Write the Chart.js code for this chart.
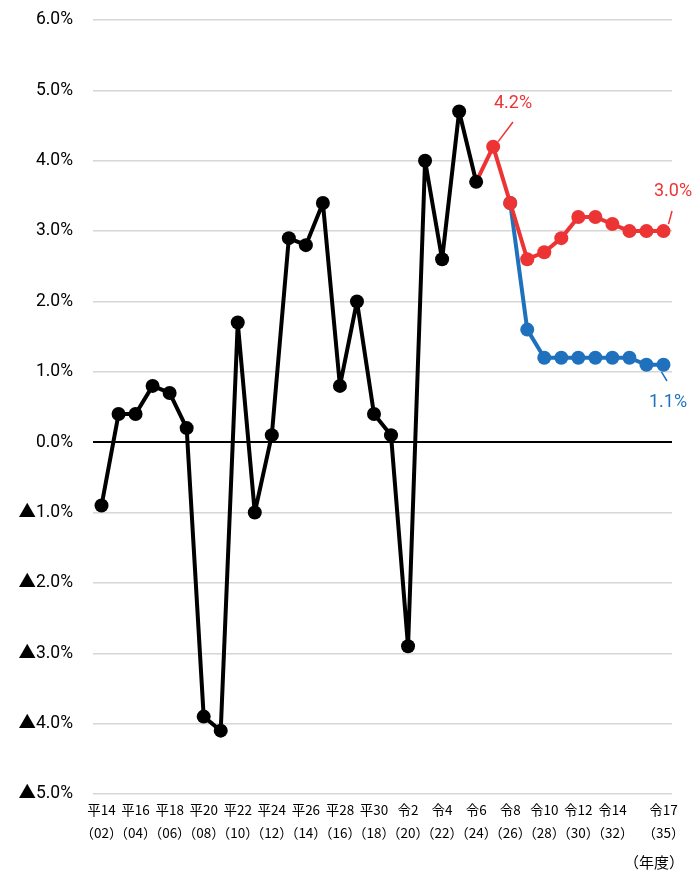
<!DOCTYPE html>
<html>
<head>
<meta charset="utf-8">
<script src="https://cdn.jsdelivr.net/npm/chart.js@4.4.0/dist/chart.umd.min.js"></script>
<style>
  html, body { margin: 0; padding: 0; background: #fff; }
  #wrap { width: 692px; height: 872px; }
</style>
</head>
<body>
<div id="wrap"><canvas id="myChart" width="692" height="872"></canvas></div>
<script>
// 年度 2002〜2035
const years = [];
for (let y = 2002; y <= 2035; y++) years.push(y);

// 実績（2002〜2024）
const actual = [-0.9, 0.4, 0.4, 0.8, 0.7, 0.2, -3.9, -4.1, 1.7, -1.0, 0.1, 2.9,
  2.8, 3.4, 0.8, 2.0, 0.4, 0.1, -2.9, 4.0, 2.6, 4.7, 3.7];

// 成長ケース（2024〜2035）
const growthYears = [2024, 2025, 2026, 2027, 2028, 2029, 2030, 2031, 2032, 2033, 2034, 2035];
const growth = [3.7, 4.2, 3.4, 2.6, 2.7, 2.9, 3.2, 3.2, 3.1, 3.0, 3.0, 3.0];

// ベースラインケース（2026〜2035）
const baseYears = [2026, 2027, 2028, 2029, 2030, 2031, 2032, 2033, 2034, 2035];
const baseline = [3.4, 1.6, 1.2, 1.2, 1.2, 1.2, 1.2, 1.2, 1.1, 1.1];

// 軸ラベル
const tickYears = [2002, 2004, 2006, 2008, 2010, 2012, 2014, 2016, 2018, 2020, 2022, 2024, 2026, 2028, 2030, 2032, 2035];
const tickEra = ['平14', '平16', '平18', '平20', '平22', '平24', '平26', '平28', '平30', '令2', '令4', '令6', '令8', '令10', '令12', '令14', '令17'];
const tickShort = ['（02）', '（04）', '（06）', '（08）', '（10）', '（12）', '（14）', '（16）', '（18）', '（20）', '（22）', '（24）', '（26）', '（28）', '（30）', '（32）', '（35）'];

const RED = '#ec3434';
const BLUE = '#1f71bd';

const fullSeries = (ys, vals) => years.map(y => {
  const i = ys.indexOf(y);
  return i < 0 ? null : vals[i];
});

const actualData = years.map((y, i) => i < actual.length ? actual[i] : null);
const growthData = fullSeries(growthYears, growth);
const baseData = fullSeries(baseYears, baseline);

// 末端ラベル（引き出し線つき）
const callouts = [
  { ds: 1, year: 2025, text: '4.2%', color: RED, tx: 513, ty: 103, lx: 513, ly: 122, sx: 5, sy: -5 },
  { ds: 1, year: 2035, text: '3.0%', color: RED, tx: 673, ty: 191, lx: 672, ly: 211, sx: 5, sy: -7 },
  { ds: 2, year: 2035, text: '1.1%', color: BLUE, tx: 668, ty: 402, lx: 667, ly: 381, sx: -2, sy: 7 }
];

const calloutPlugin = {
  id: 'callouts',
  afterDatasetsDraw(chart) {
    const c = chart.ctx;
    const xs = chart.scales.x, ysc = chart.scales.y;
    c.save();
    callouts.forEach(co => {
      const i = years.indexOf(co.year);
      const v = chart.data.datasets[co.ds].data[i];
      const px = xs.getPixelForValue(i);
      const py = ysc.getPixelForValue(v);
      c.strokeStyle = co.color;
      c.lineWidth = 1.5;
      c.beginPath();
      c.moveTo(px + co.sx, py + co.sy);
      c.lineTo(co.lx, co.ly);
      c.stroke();
      c.fillStyle = co.color;
      c.font = '18px Roboto, "Liberation Sans", sans-serif';
      c.textAlign = 'center';
      c.textBaseline = 'middle';
      c.fillText(co.text, co.tx, co.ty);
    });
    c.fillStyle = '#000';
    c.font = '15px "Noto Sans CJK JP", sans-serif';
    c.textAlign = 'right';
    c.textBaseline = 'middle';
    c.fillText('（年度）', 684, 862);
    c.restore();
  }
};

const ctx = document.getElementById('myChart');

const lineStyle = {
  borderWidth: 4,
  pointRadius: 7,
  pointHoverRadius: 7,
  pointBorderWidth: 0,
  borderJoinStyle: 'round',
  borderCapStyle: 'round',
  tension: 0
};

new Chart(ctx, {
  type: 'line',
  data: {
    labels: years,
    datasets: [{
      ...lineStyle,
      label: '実績',
      data: actualData,
      borderColor: '#000',
      backgroundColor: '#000'
    }, {
      ...lineStyle,
      label: '成長ケース',
      data: growthData,
      borderColor: RED,
      backgroundColor: RED,
      pointRadius: c => years[c.dataIndex] === 2024 ? 0 : 7
    }, {
      ...lineStyle,
      label: 'ベースラインケース',
      data: baseData,
      borderColor: BLUE,
      backgroundColor: BLUE
    }]
  },
  options: {
    responsive: false,
    animation: false,
    layout: { padding: { top: 20, right: 20, left: 0, bottom: 0 } },
    plugins: {
      legend: { display: false },
      tooltip: { enabled: false }
    },
    scales: {
      x: {
        type: 'category',
        offset: true,
        grid: { display: false, drawTicks: false },
        border: { display: false },
        afterFit: s => { s.height = 78; },
        ticks: {
          autoSkip: false,
          maxRotation: 0,
          minRotation: 0,
          padding: 4,
          color: '#000',
          font: { family: '"Noto Sans CJK JP", sans-serif', size: 13.5, lineHeight: 1.7 },
          callback: function (val, idx) {
            const k = tickYears.indexOf(years[idx]);
            return k < 0 ? '' : [tickEra[k], tickShort[k]];
          }
        }
      },
      y: {
        min: -5,
        max: 6,
        afterFit: s => { s.width = 93; s.paddingTop = 0; s.paddingBottom = 0; },
        grid: {
          drawTicks: false,
          color: c => c.tick.value === 0 ? '#000' : '#d6d6d6',
          lineWidth: c => c.tick.value === 0 ? 2 : 1.5
        },
        border: { display: false },
        ticks: {
          stepSize: 1,
          padding: 20,
          color: '#000',
          font: { family: 'Roboto, "Noto Sans CJK JP", sans-serif', size: 17.5 },
          callback: v => v < 0 ? '▲' + Math.abs(v).toFixed(1) + '%' : v.toFixed(1) + '%'
        }
      }
    }
  },
  plugins: [calloutPlugin]
});
</script>
</body>
</html>
